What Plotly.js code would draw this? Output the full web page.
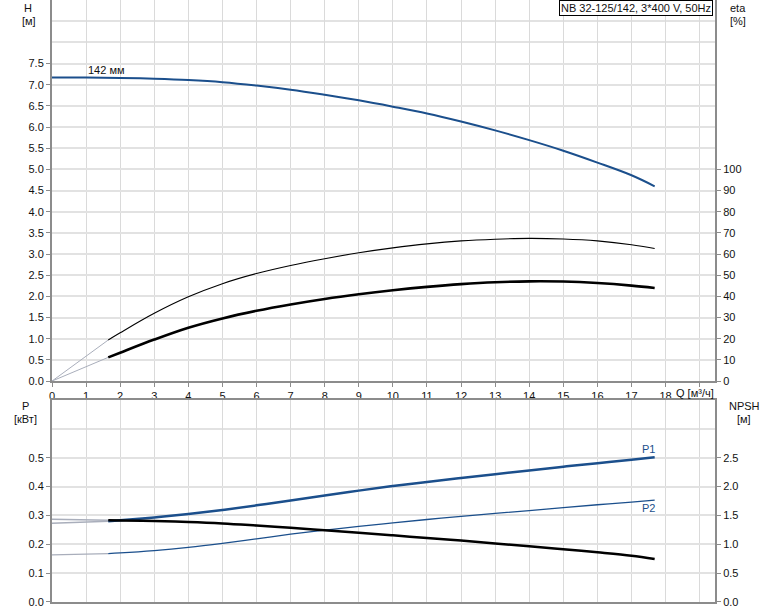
<!DOCTYPE html>
<html>
<head>
<meta charset="utf-8">
<script src="https://cdn.plot.ly/plotly-3.0.1.min.js"></script>
<style>html,body{margin:0;padding:0;background:#fff;}</style>
</head>
<body>
<div id="chart" style="width:774px;height:611px;"></div>
<script>
// Flow rate Q [м³/ч]
const qH = [0,1,2,3,4,5,6,7,8,9,10,11,12,13,14,15,16,17,17.68];
const headH = [7.17,7.17,7.16,7.14,7.11,7.06,6.98,6.88,6.76,6.63,6.48,6.32,6.13,5.92,5.69,5.44,5.16,4.86,4.6];

const qEta = [1.65,2,3,4,5,6,7,8,9,10,11,12,13,14,15,16,17,17.68];
const etaUpper = [19.4,22.8,32,39.8,46,50.8,54.6,57.8,60.6,62.9,64.8,66.2,67.0,67.4,67.1,66.2,64.4,62.6];
const etaLower = [11.2,13.4,19.6,25.2,29.6,33.2,36.2,38.8,41,42.9,44.5,45.8,46.7,47.1,47.0,46.3,45.1,44.0];
const qExt = [0,1.65];
const etaUpperExt = [0,19.4];
const etaLowerExt = [0,11.2];

const qP = [1.65,2,3,4,5,6,7,8,9,10,11,12,13,14,15,16,17,17.68];
const p1 = [0.280,0.283,0.293,0.305,0.319,0.335,0.352,0.369,0.386,0.402,0.416,0.430,0.443,0.456,0.469,0.481,0.493,0.502];
const p2 = [0.168,0.170,0.178,0.189,0.203,0.219,0.235,0.249,0.262,0.274,0.286,0.297,0.307,0.317,0.327,0.337,0.346,0.353];
const npsh = [1.415,1.412,1.402,1.387,1.362,1.325,1.285,1.245,1.2,1.155,1.11,1.065,1.015,0.965,0.915,0.86,0.80,0.745];
const p1Ext = [0.273,0.280];
const p2Ext = [0.163,0.168];
const npshExt = [1.435,1.415];

const xTicks = [0,1,2,3,4,5,6,7,8,9,10,11,12,13,14,15,16,17,18,19];
const xTickText = ['0','1','2','3','4','5','6','7','8','9','10','11','12','13','14','15','16','17','18',''];
const hTicks = [0,0.5,1,1.5,2,2.5,3,3.5,4,4.5,5,5.5,6,6.5,7,7.5];
const etaTicks = [0,10,20,30,40,50,60,70,80,90,100];
const pTicks = [0,0.1,0.2,0.3,0.4,0.5];
const npshTicks = [0,0.5,1,1.5,2,2.5];

const blue = '#1b4f8c';
const gray = '#a9aebb';
const axisCol = '#8c8c8c';
const gridCol = '#dadada';

function ln(color, width, smooth) {
  return smooth ? {color:color, width:width, shape:'spline', smoothing:1} : {color:color, width:width};
}

const traces = [
  {x:qH, y:headH, xaxis:'x', yaxis:'y', mode:'lines', line:ln(blue, 2, true)},
  {x:qExt, y:etaUpperExt, xaxis:'x', yaxis:'y2', mode:'lines', line:ln(gray, 1)},
  {x:qExt, y:etaLowerExt, xaxis:'x', yaxis:'y2', mode:'lines', line:ln(gray, 1)},
  {x:qEta, y:etaUpper, xaxis:'x', yaxis:'y2', mode:'lines', line:ln('#000', 1.1, true)},
  {x:qEta, y:etaLower, xaxis:'x', yaxis:'y2', mode:'lines', line:ln('#000', 2.6, true)},
  {x:qExt, y:p1Ext, xaxis:'x2', yaxis:'y3', mode:'lines', line:ln(gray, 1.5)},
  {x:qExt, y:p2Ext, xaxis:'x2', yaxis:'y3', mode:'lines', line:ln(gray, 1.2)},
  {x:qExt, y:npshExt, xaxis:'x2', yaxis:'y4', mode:'lines', line:ln(gray, 1.5)},
  {x:qP, y:p1, xaxis:'x2', yaxis:'y3', mode:'lines', line:ln(blue, 2.5, true)},
  {x:qP, y:p2, xaxis:'x2', yaxis:'y3', mode:'lines', line:ln(blue, 1.3, true)},
  {x:qP, y:npsh, xaxis:'x2', yaxis:'y4', mode:'lines', line:ln('#000', 2.5, true)}
];

const font = {family:'Liberation Sans, Arial, sans-serif', size:11, color:'#111'};
const xBase = {
  range:[0,19.45], tickmode:'array', tickvals:xTicks, ticktext:xTickText,
  showgrid:true, gridcolor:gridCol, gridwidth:1, zeroline:false,
  showline:true, linecolor:axisCol, linewidth:2,
  ticks:'outside', ticklen:4, tickcolor:axisCol, tickfont:font
};
const yBase = {
  showline:true, linecolor:axisCol, linewidth:2, zeroline:false,
  ticks:'outside', ticklen:4, tickcolor:axisCol, tickfont:font, tickmode:'array'
};

const layout = {
  width:774, height:611,
  margin:{l:52, r:59, t:0, b:9},
  paper_bgcolor:'#fff', plot_bgcolor:'#fff',
  showlegend:false,
  font:font,
  xaxis: Object.assign({}, xBase, {anchor:'y'}),
  yaxis: Object.assign({}, yBase, {
    domain:[0.367,1], range:[0,9], tickvals:hTicks, tickformat:'.1f',
    showgrid:true, gridcolor:'#e2e2e2', gridwidth:2,
    minor:{tickmode:'linear', tick0:0, dtick:0.5, showgrid:true, gridcolor:'#e2e2e2', gridwidth:2, ticks:''}
  }),
  yaxis2: Object.assign({}, yBase, {
    overlaying:'y', side:'right', range:[0,180], tickvals:etaTicks, showgrid:false, anchor:'x'
  }),
  xaxis2: Object.assign({}, xBase, {anchor:'y3', showticklabels:false, mirror:true, ticks:''}),
  yaxis3: Object.assign({}, yBase, {
    domain:[0,0.3355], range:[0,0.7], tickvals:pTicks, tickformat:'.1f',
    showgrid:true, gridcolor:'#e2e2e2', gridwidth:2, anchor:'x2',
    minor:{tickmode:'linear', tick0:0, dtick:0.1, showgrid:true, gridcolor:'#e2e2e2', gridwidth:2, ticks:''}
  }),
  yaxis4: Object.assign({}, yBase, {
    overlaying:'y3', side:'right', range:[0,3.5], tickvals:npshTicks, tickformat:'.1f', showgrid:false, anchor:'x2'
  }),
  annotations:[
    {xref:'paper', yref:'paper', x:-0.036, y:1.0, xanchor:'center', yanchor:'top', text:'H', showarrow:false, font:font},
    {xref:'paper', yref:'paper', x:-0.035, y:0.978, xanchor:'center', yanchor:'top', text:'[м]', showarrow:false, font:font},
    {xref:'paper', yref:'paper', x:1.035, y:1.0, xanchor:'center', yanchor:'top', text:'eta', showarrow:false, font:font},
    {xref:'paper', yref:'paper', x:1.035, y:0.978, xanchor:'center', yanchor:'top', text:'[%]', showarrow:false, font:font},
    {xref:'paper', yref:'paper', x:-0.040, y:0.3385, xanchor:'center', yanchor:'top', text:'P', showarrow:false, font:font},
    {xref:'paper', yref:'paper', x:-0.040, y:0.317, xanchor:'center', yanchor:'top', text:'[кВт]', showarrow:false, font:font},
    {xref:'paper', yref:'paper', x:1.044, y:0.3385, xanchor:'center', yanchor:'top', text:'NPSH', showarrow:false, font:font},
    {xref:'paper', yref:'paper', x:1.044, y:0.317, xanchor:'center', yanchor:'top', text:'[м]', showarrow:false, font:font},
    {xref:'x', yref:'paper', x:18.25, y:0.3671, xanchor:'left', yanchor:'top', yshift:-4, text:'Q [м³/ч]', showarrow:false, font:font},
    {xref:'paper', yref:'paper', x:0.997, y:1.0, xanchor:'right', yanchor:'top', text:'NB 32-125/142, 3*400 V, 50Hz', showarrow:false,
      font:font, bgcolor:'#fff', bordercolor:'#000', borderwidth:1, borderpad:1},
    {xref:'x', yref:'y', x:1.0, y:7.17, xanchor:'left', yanchor:'bottom', text:'142 мм', showarrow:false, font:font, yshift:-1},
    {xref:'x2', yref:'y3', x:17.68, y:0.502, xanchor:'right', yanchor:'bottom', text:'P1', showarrow:false, font:{family:font.family, size:11, color:blue}, xshift:2},
    {xref:'x2', yref:'y3', x:17.68, y:0.353, xanchor:'right', yanchor:'top', text:'P2', showarrow:false, font:{family:font.family, size:11, color:blue}, xshift:2}
  ]
};

Plotly.newPlot('chart', traces, layout, {staticPlot:true, displayModeBar:false});
</script>
</body>
</html>
